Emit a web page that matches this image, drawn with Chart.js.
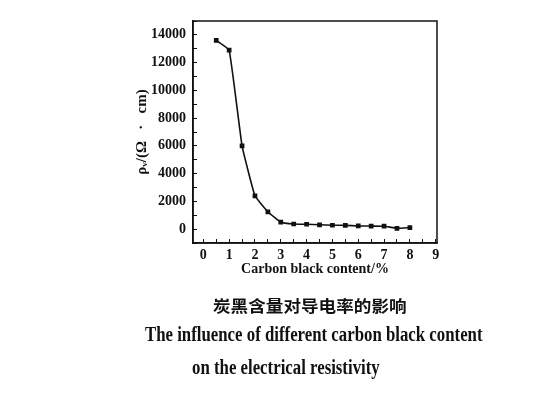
<!DOCTYPE html>
<html>
<head>
<meta charset="utf-8">
<script src="https://cdn.jsdelivr.net/npm/chart.js@4/dist/chart.umd.min.js"></script>
<style>
  html, body { margin: 0; padding: 0; background: #fff; }
  #wrap { position: relative; width: 540px; height: 400px; overflow: hidden; }
  #chart { position: absolute; left: 0; top: 0; }
  .cap { position: absolute; white-space: nowrap; color: #111; transform-origin: 0 0; }
  .cn { font: bold 16px "Noto Sans CJK SC", sans-serif; line-height: 16px; left: 213px; top: 297px; transform: scaleX(1.1); }
  .en { font: bold 20px "Liberation Serif", serif; line-height: 20px; transform: scaleX(0.84); }
</style>
</head>
<body>
<div id="wrap">
  <canvas id="chart" width="540" height="400"></canvas>
  <div class="cap cn">炭黑含量对导电率的影响</div>
  <div class="cap en" style="left:145px; top:324px;">The influence of different carbon black content</div>
  <div class="cap en" style="left:192px; top:357px;">on the electrical resistivity</div>
</div>
<script>
  // carbon black content (%) and resistivity (Ω·cm)
  const contents = [0.5, 1, 1.5, 2, 2.5, 3, 3.5, 4, 4.5, 5, 5.5, 6, 6.5, 7, 7.5, 8];
  const resistivity = [13600, 12900, 6000, 2400, 1250, 500, 370, 350, 310, 280, 270, 230, 220, 210, 60, 110];

  const xTitle = 'Carbon black content/%';
  const yTitle = 'ρᵥ/(Ω   ·   cm)';

  const ink = '#111';
  const tickFont = { family: 'Liberation Serif', size: 14, weight: 'bold' };

  // draws the closed frame around the plot
  const frame = {
    id: 'frame',
    afterDraw(chart) {
      const { ctx, chartArea: a } = chart;
      ctx.save();
      ctx.strokeStyle = ink;
      ctx.lineWidth = 1.5;
      ctx.strokeRect(a.left, a.top, a.right - a.left, a.bottom - a.top);
      ctx.restore();
    }
  };

  new Chart(document.getElementById('chart'), {
    type: 'line',
    data: {
      datasets: [{
        data: contents.map((x, i) => ({ x, y: resistivity[i] })),
        borderColor: ink,
        backgroundColor: ink,
        borderWidth: 1.6,
        pointStyle: 'rect',
        pointRadius: 2.2,
        tension: 0.1,
        fill: false
      }]
    },
    options: {
      responsive: false,
      animation: false,
      layout: { padding: { left: 130, top: 21, right: 103, bottom: 122 } },
      plugins: { legend: { display: false }, tooltip: { enabled: false } },
      scales: {
        x: {
          type: 'linear',
          min: -0.4,
          max: 9.05,
          afterFit: (s) => { s.height = 35; },
          border: { color: ink, width: 1.5 },
          grid: { drawOnChartArea: false, tickLength: -4, color: ink, tickWidth: 1 },
          ticks: {
            stepSize: 0.5,
            includeBounds: false,
            autoSkip: false,
            maxRotation: 0,
            padding: 8,
            color: ink,
            font: tickFont,
            callback: (v) => (Number.isInteger(v) ? String(v) : '')
          },
          title: { display: true, text: xTitle, color: ink, font: tickFont, padding: { top: 0, bottom: 0 } }
        },
        y: {
          min: -1000,
          max: 15000,
          afterFit: (s) => { s.width = 63; },
          border: { color: ink, width: 1.5 },
          grid: { drawOnChartArea: false, tickLength: -4, color: ink, tickWidth: 1 },
          ticks: {
            stepSize: 1000,
            includeBounds: false,
            autoSkip: false,
            padding: 11,
            color: ink,
            font: tickFont,
            callback: (v) => (v >= 0 && v % 2000 === 0 ? String(v) : '')
          },
          title: { display: true, text: yTitle, color: ink, font: { family: 'Liberation Serif', size: 15, weight: 'bold' }, padding: { top: 3, bottom: 0 } }
        }
      }
    },
    plugins: [frame]
  });
</script>
</body>
</html>
